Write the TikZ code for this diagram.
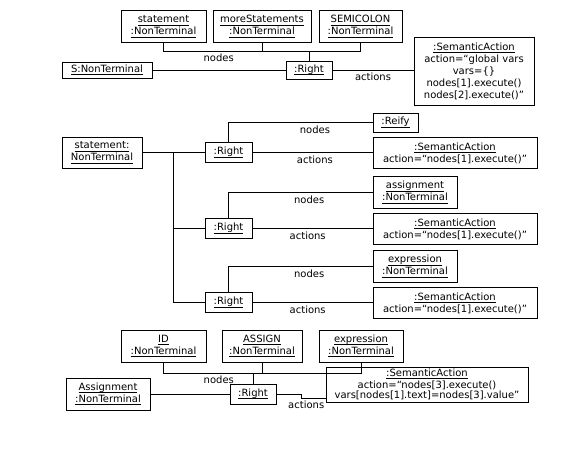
\documentclass[tikz,border=0pt]{standalone}
\usepackage{fontspec}
\setmainfont{DejaVu Sans}
\usetikzlibrary{positioning}
\newcommand{\objname}[1]{\tikz[baseline=(u.base)]{%
  \node[draw=none,fill=none,shape=rectangle,inner sep=0pt,outer sep=0pt,
        minimum width=0pt,minimum height=0pt,anchor=base] (u) {\strut#1};
  \draw[line width=1.1pt] ([yshift=-2.3pt]u.base west) -- ([yshift=-2.3pt]u.base east);}}
\tikzset{
  font=\fontsize{10}{12}\selectfont,
  obj/.style={draw,line width=0.8pt,align=center,inner sep=1pt,minimum height=32pt},
  ref/.style={obj,minimum height=19pt},
  link/.style={line width=0.8pt},
  lbl/.style={inner sep=2.5pt},
}

\begin{document}
\begin{tikzpicture}[x=1pt,y=-1pt]
  \useasboundingbox[fill=white] (0,0) rectangle (583,464);

  % S -> statement moreStatements SEMICOLON
  \node[obj,minimum width=85pt] (stmt) at (163.5,26.5) {\objname{statement}\\\objname{:NonTerminal}};
  \node[obj,minimum width=98pt] (more) at (262,26.5) {\objname{moreStatements}\\\objname{:NonTerminal}};
  \node[obj,minimum width=83pt] (semi) at (360.5,26.5) {\objname{SEMICOLON}\\\objname{:NonTerminal}};
  \node[obj,minimum width=90pt,minimum height=16pt] (snt) at (107,70) {\objname{S:NonTerminal}};
  \node[ref,minimum width=46pt,minimum height=18pt] (r0) at (309,70) {\objname{:Right}};
  \node[obj,minimum width=120pt,minimum height=68pt] (sa0) at (474,71)
    {\objname{:SemanticAction}\\action=“global vars\\vars=\{\}\\nodes[1].execute()\\nodes[2].execute()”};
  \coordinate (busA) at (0,51);

  \draw[link] (stmt.south) |- node[lbl,below,pos=0.64]{nodes} (semi.south |- busA) -- (semi.south);
  \draw[link] (more.south) -- (more.south |- busA);
  \draw[link] (r0.north) -- (r0.north |- busA);
  \draw[link] (snt.east) -- (r0.west);
  \draw[link] (r0.east) -- node[lbl,below]{actions} (sa0.west |- r0.east);

  % statement -> three alternatives
  \node[obj,minimum width=80pt,minimum height=31pt] (stmt2) at (102,152.5) {\objname{statement:}\\\objname{NonTerminal}};
  \node[ref,minimum width=47pt,minimum height=20pt] (r1) at (228.5,152.5) {\objname{:Right}};
  \node[ref,minimum width=47pt,minimum height=20pt] (r2) at (228.5,228.5) {\objname{:Right}};
  \node[ref,minimum width=47pt,minimum height=20pt] (r3) at (228.5,302.5) {\objname{:Right}};
  \node[ref,minimum width=45pt] (reify) at (395.5,122.5) {\objname{:Reify}};
  \node[obj,minimum width=84pt] (assign) at (415,192.5) {\objname{assignment}\\\objname{:NonTerminal}};
  \node[obj,minimum width=84pt] (expr) at (415,266.5) {\objname{expression}\\\objname{:NonTerminal}};
  \node[obj,minimum width=164pt,minimum height=31pt] (sa1) at (455,152.5) {\objname{:SemanticAction}\\action=“nodes[1].execute()”};
  \node[obj,minimum width=164pt,minimum height=31pt] (sa2) at (455,228.5) {\objname{:SemanticAction}\\action=“nodes[1].execute()”};
  \node[obj,minimum width=164pt,minimum height=31pt] (sa3) at (455,302.5) {\objname{:SemanticAction}\\action=“nodes[1].execute()”};
  \coordinate (fork) at (173,152.5);

  \draw[link] (stmt2.east) -- (r1.west);
  \draw[link] (fork) |- (r2.west);
  \draw[link] (fork) |- (r3.west);
  \draw[link] (r1.north) |- node[lbl,below,pos=0.8]{nodes} (reify.west);
  \draw[link] (r2.north) |- node[lbl,below,pos=0.78]{nodes} (assign.west);
  \draw[link] (r3.north) |- node[lbl,below,pos=0.78]{nodes} (expr.west);
  \draw[link] (r1.east) -- node[lbl,below,pos=0.52]{actions} (sa1.west);
  \draw[link] (r2.east) -- node[lbl,below,pos=0.46]{actions} (sa2.west);
  \draw[link] (r3.east) -- node[lbl,below,pos=0.46]{actions} (sa3.west);

  % Assignment -> ID ASSIGN expression
  \node[obj,minimum width=85pt] (id) at (163.5,346) {\objname{ID}\\\objname{:NonTerminal}};
  \node[obj,minimum width=80pt] (asg) at (262,346) {\objname{ASSIGN}\\\objname{:NonTerminal}};
  \node[obj,minimum width=84pt] (expr2) at (361,346) {\objname{expression}\\\objname{:NonTerminal}};
  \node[obj,minimum width=84pt] (asnt) at (108,394) {\objname{Assignment}\\\objname{:NonTerminal}};
  \node[ref,minimum width=46pt,minimum height=20pt] (r4) at (253,394) {\objname{:Right}};
  \node[obj,minimum width=202pt,minimum height=35pt,font=\fontsize{10}{10.5}\selectfont] (sa4) at (427,384.5)
    {\objname{:SemanticAction}\\action=“nodes[3].execute()\\vars[nodes[1].text]=nodes[3].value”};
  \coordinate (busB) at (0,373);

  \draw[link] (id.south) |- node[lbl,below,pos=0.64]{nodes} (expr2.south |- busB) -- (expr2.south);
  \draw[link] (asg.south) -- (asg.south |- busB);
  \draw[link] (r4.north) -- (r4.north |- busB);
  \draw[link] (asnt.east) -- (r4.west);
  \draw[link] (r4.east) -- ++(25,0) |- node[lbl,below,pos=0.6]{actions} ([yshift=-13.5pt]sa4.west);
\end{tikzpicture}
\end{document}
